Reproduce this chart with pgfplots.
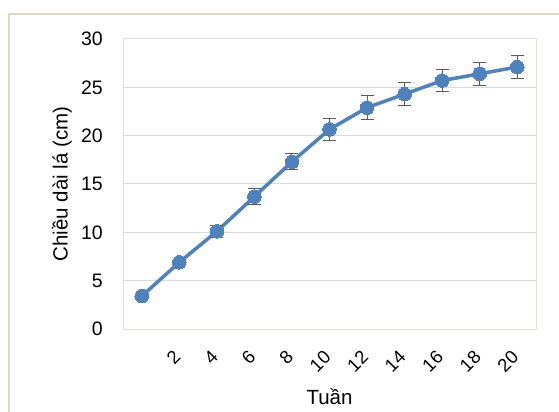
\documentclass[border=0pt]{standalone}
\usepackage{pgfplots}
\pgfplotsset{compat=1.18}
\usepackage{fontspec}
\setmainfont{Liberation Sans}
\definecolor{lineblue}{RGB}{79,129,189}
\definecolor{frame}{RGB}{221,217,195}
\definecolor{plotborder}{RGB}{226,222,205}
\definecolor{gridgray}{RGB}{217,217,217}
\definecolor{errgray}{RGB}{90,90,90}
\begin{document}
\begin{tikzpicture}
\useasboundingbox (0,0) rectangle (559bp,412bp);
\fill[white] (0,0) rectangle (559bp,412bp);
\draw[frame, line width=2bp] (9bp,-5bp) -- (9bp,398bp) -- (570bp,398bp);
\begin{axis}[
  at={(123bp,83bp)}, anchor=south west,
  scale only axis, width=413bp, height=290bp,
  xmin=-1, xmax=21, ymin=0, ymax=30,
  xtick={2,4,...,20}, ytick={0,5,...,30},
  major tick length=0pt,
  axis line style={draw=plotborder, line width=1bp},
  ymajorgrids, grid style={draw=gridgray, line width=1bp},
  /pgf/number format/assume math mode=true,
  yticklabel style={font=\fontsize{19.5bp}{23bp}\selectfont, inner sep=0pt, xshift=-20bp, anchor=east},
  xticklabel style={font=\fontsize{18.5bp}{22bp}\selectfont, inner sep=0pt, xshift=-2bp, yshift=-25bp, rotate=45, anchor=east},
  label style={font=\fontsize{20.5bp}{24bp}\selectfont},
  xlabel={Tuần},
  ylabel={Chiều dài lá (cm)},
  xlabel style={at={(axis description cs:0.5,-0.2345)}, anchor=center, inner sep=0pt},
  ylabel style={at={(axis description cs:-0.148,0.5)}, anchor=center, inner sep=0pt},
]
\addplot[
  draw=lineblue, line width=3.5bp,
  mark=*, mark size=6.8bp, mark options={fill=lineblue, draw=lineblue, line width=0pt},
  error bars/.cd, y dir=both, y explicit,
  error bar style={draw=errgray, line width=1bp},
  error mark options={rotate=90, mark size=6.5bp, draw=errgray, line width=1bp},
] table[x=x, y=y, y error=e] {
x y e
0 3.4 0.2
2 6.9 0.3
4 10.1 0.65
6 13.7 0.85
8 17.3 0.85
10 20.65 1.1
12 22.9 1.25
14 24.3 1.15
16 25.7 1.15
18 26.4 1.2
20 27.1 1.2
};
\end{axis}
\end{tikzpicture}
\end{document}
